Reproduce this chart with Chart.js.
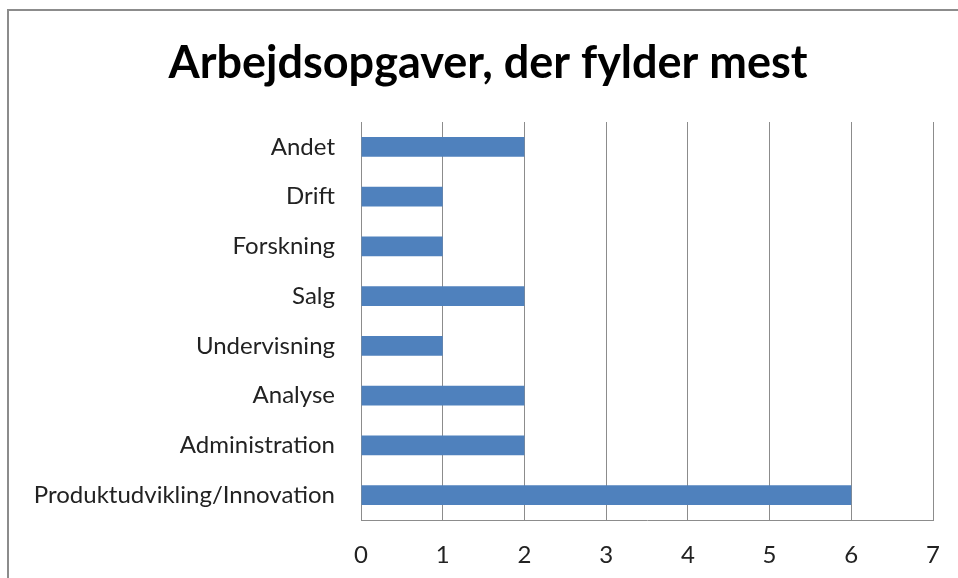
<!DOCTYPE html>
<html>
<head>
<meta charset="utf-8">
<script src="https://cdn.jsdelivr.net/npm/chart.js@4"></script>
<style>
  html, body { margin: 0; padding: 0; background: #fff; }
  #wrap { position: relative; width: 958px; height: 578px; overflow: hidden; }
  #frame { position: absolute; left: 7px; top: 9px; width: 1000px; height: 1000px; border: 2px solid #8c8c8c; box-sizing: border-box; }
  canvas { position: absolute; left: 0; top: 0; }
</style>
</head>
<body>
<div id="wrap">
  <div id="frame"></div>
  <canvas id="chart" width="958" height="578"></canvas>
</div>
<script>
// kategorier og antal svar
var kategorier = ['Andet', 'Drift', 'Forskning', 'Salg', 'Undervisning', 'Analyse', 'Administration', 'Produktudvikling/Innovation'];
var antal = [2, 1, 1, 2, 1, 2, 2, 6];
var xMin = 0;
var xMax = 7;
var titel = 'Arbejdsopgaver, der fylder mest';

var fontNavn = 'Lato, "Open Sans", sans-serif';

// titlen sidder lidt til højre for midten, ligesom i Excel
var titelPlugin = {
    id: 'titelPlugin',
    afterDraw: function (chart) {
        var c = chart.ctx;
        c.save();
        c.font = 'bold 45px ' + fontNavn;
        c.fillStyle = '#000';
        c.textAlign = 'center';
        c.textBaseline = 'middle';
        c.fillText(titel, 488, 63);
        c.restore();
    }
};

var ctx = document.getElementById('chart').getContext('2d');
var chart = new Chart(ctx, {
    type: 'bar',
    data: {
        labels: kategorier,
        datasets: [{
            data: antal,
            backgroundColor: '#4f81bd',
            borderWidth: 0,
            categoryPercentage: 1,
            barPercentage: 0.4
        }]
    },
    options: {
        indexAxis: 'y',
        responsive: false,
        animation: false,
        layout: { padding: { left: 0, right: 25, top: 122, bottom: 0 } },
        plugins: {
            legend: { display: false },
            tooltip: { enabled: false },
            title: { display: false }
        },
        scales: {
            x: {
                min: xMin,
                max: xMax,
                ticks: {
                    stepSize: 1,
                    color: '#222',
                    font: { family: fontNavn, size: 24 },
                    padding: 21
                },
                grid: { color: '#8c8c8c', lineWidth: 1, drawTicks: false },
                border: { color: '#8c8c8c', width: 1 },
                afterFit: function (scale) {
                    scale.height = 58;
                    scale.paddingLeft = 0;
                    scale.paddingRight = 0;
                }
            },
            y: {
                ticks: {
                    color: '#222',
                    font: { family: fontNavn, size: 24 },
                    padding: 26,
                    autoSkip: false
                },
                grid: { display: false, drawTicks: false },
                border: { color: '#8c8c8c', width: 1 },
                afterFit: function (scale) { scale.width = 361; }
            }
        }
    },
    plugins: [titelPlugin]
});
</script>
</body>
</html>
